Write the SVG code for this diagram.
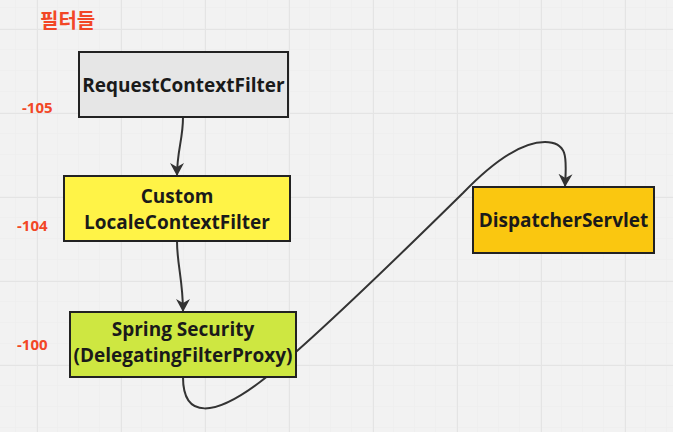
<svg xmlns="http://www.w3.org/2000/svg" width="673" height="432" viewBox="0 0 673 432">
<defs>
<pattern id="minor" width="21" height="21" patternUnits="userSpaceOnUse" x="16" y="8">
<path d="M21,0 V21 M0,21 H21" fill="none" stroke="#ececec" stroke-width="1"/>
</pattern>
<pattern id="major" width="84" height="84" patternUnits="userSpaceOnUse" x="37" y="29">
<path d="M0,0 V84 M0,0 H84" fill="none" stroke="#e4e4e4" stroke-width="2"/>
</pattern>
<marker id="arr" markerUnits="userSpaceOnUse" markerWidth="16" markerHeight="16" refX="13" refY="7" orient="auto" viewBox="0 0 16 14">
<path d="M0,0 L13,7 L0,14 L4,7 Z" fill="#333"/>
</marker>
</defs>
<style>
.node rect{stroke:#222;stroke-width:2}
.node text{font-family:"Open Sans","Noto Sans",sans-serif;font-weight:700;font-size:19px;fill:#1a1a1a;text-anchor:middle}
.lbl{font-family:"Open Sans","Noto Sans","Noto Sans CJK KR",sans-serif;font-weight:700;fill:#f24726}
.conn path{fill:none;stroke:#333;stroke-width:2;marker-end:url(#arr)}
</style>
<rect width="673" height="432" fill="#f2f2f2"/>
<rect width="673" height="432" fill="url(#minor)"/>
<rect width="673" height="432" fill="url(#major)"/>
<text class="lbl" x="40" y="28" font-size="20">필터들</text>
<text class="lbl" x="22" y="113" font-size="15">-105</text>
<text class="lbl" x="17" y="231" font-size="15">-104</text>
<text class="lbl" x="17" y="350" font-size="15">-100</text>
<g class="conn">
<path d="M183,117 C183,140 177,150 177,176"/>
<path d="M177,241 C177,265 183,280 183,312"/>
<path d="M183,377 C183,420 215,416 260,382 S 400,255 463,193 C 490,165 520,142 545,142 S 566,162 565,187"/>
</g>
<g id="n1" class="node">
<rect x="79" y="52" width="209" height="65" fill="#e6e6e6"/>
<text x="183.5" y="92">RequestContextFilter</text>
</g>
<g id="n2" class="node">
<rect x="64" y="176" width="226" height="65" fill="#fff347"/>
<text x="177" y="203">Custom</text>
<text x="177" y="229">LocaleContextFilter</text>
</g>
<g id="n3" class="node">
<rect x="70" y="312" width="226" height="65" fill="#cee741"/>
<text x="183" y="336">Spring Security</text>
<text x="183" y="362">(DelegatingFilterProxy)</text>
</g>
<g id="n4" class="node">
<rect x="473" y="187" width="181" height="66" fill="#fac710"/>
<text x="563.5" y="227">DispatcherServlet</text>
</g>
</svg>
